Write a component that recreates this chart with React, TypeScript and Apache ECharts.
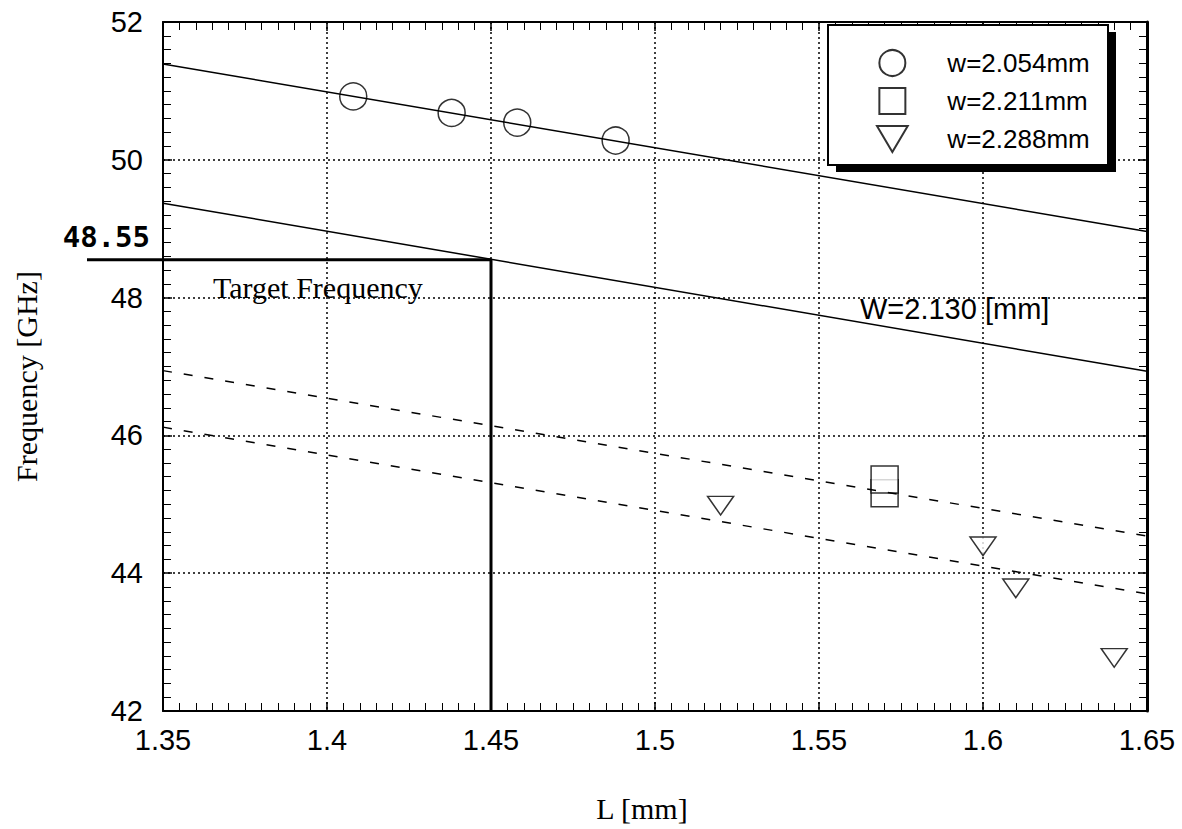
import React, { useEffect, useRef } from "react";
import * as echarts from "echarts";

// ---- data ----
const xTickLabels = ["1.35", "1.4", "1.45", "1.5", "1.55", "1.6", "1.65"];
const xMin = 1.35;
const xMax = 1.65;
const xStep = 0.05;
const yMin = 42;
const yMax = 52;
const yStep = 2;

const circleL = [1.408, 1.438, 1.458, 1.488];
const circleF = [50.92, 50.68, 50.54, 50.28];
const squareL = [1.57, 1.57];
const squareF = [45.16, 45.36];
const triL = [1.52, 1.6, 1.61, 1.64];
const triF = [44.98, 44.39, 43.78, 42.77];

const fitL = [1.35, 1.65];
const solidA = [51.39, 48.96];
const solidB = [49.37, 46.93];
const dashA = [46.94, 44.54];
const dashB = [46.12, 43.7];

const targetL = 1.45;
const targetF = 48.55;

const seriesNames = ["w=2.054mm", "w=2.211mm", "w=2.288mm"];

const pair = (xs: number[], ys: number[]) => xs.map((x, i) => [x, ys[i]]);

const sans = "Liberation Sans";
const serif = "Liberation Serif";

export default function App() {
  const ref = useRef<HTMLDivElement>(null);
  useEffect(() => {
    const chart = echarts.init(ref.current!, null, { renderer: "svg" });
    const fitLine = (d: number[], dashed: boolean) => ({
      type: "line",
      data: pair(fitL, d),
      symbol: "none",
      z: 4,
      silent: true,
      lineStyle: { color: "#000", width: 1.5, type: dashed ? [9, 12] : "solid" },
    });
    const scatterStyle = { color: "#fff", borderColor: "#000", borderWidth: 1.5 };
    const baseX = {
      type: "value",
      min: xMin,
      max: xMax,
      interval: xStep,
      axisLine: { onZero: false, lineStyle: { color: "#000", width: 2 } },
      axisTick: { inside: true, length: 9, lineStyle: { color: "#000", width: 1.5 } },
      minorTick: { show: true, splitNumber: 10, length: 8, lineStyle: { color: "#000", width: 1 } },
    };
    const baseY = {
      type: "value",
      min: yMin,
      max: yMax,
      interval: yStep,
      axisLine: { onZero: false, lineStyle: { color: "#000", width: 2 } },
      axisTick: { inside: true, length: 9, lineStyle: { color: "#000", width: 1.5 } },
      minorTick: { show: true, splitNumber: 10, length: 8, lineStyle: { color: "#000", width: 1 } },
    };
    const option: any = {
      animation: false,
      backgroundColor: "#fff",
      grid: { left: 163, top: 22, width: 984, height: 689 },
      legend: {
        data: seriesNames,
        orient: "vertical",
        left: 876,
        top: 49,
        padding: 0,
        itemWidth: 100,
        itemHeight: 26,
        itemGap: 10,
        z: 10,
        selectedMode: false,
        textStyle: { color: "#000", fontSize: 26, fontFamily: sans },
      },
      xAxis: [
        {
          ...baseX,
          position: "bottom",
          splitLine: { show: true, lineStyle: { color: "#000", width: 1.5, type: [2, 3] } },
          axisLabel: {
            color: "#000",
            fontSize: 29,
            fontFamily: sans,
            margin: 14,
            formatter: (v: number) => xTickLabels[Math.round((v - xMin) / xStep)] ?? "",
          },
          name: "L [mm]",
          nameLocation: "middle",
          nameGap: 82,
          nameTextStyle: { color: "#000", fontSize: 30, fontFamily: serif, padding: [0, 26, 0, 0] },
        },
        {
          ...baseX,
          position: "top",
          splitLine: { show: false },
          axisLabel: { show: false },
        },
      ],
      yAxis: [
        {
          ...baseY,
          position: "left",
          splitLine: { show: true, lineStyle: { color: "#000", width: 1.5, type: [2, 3] } },
          axisLabel: { color: "#000", fontSize: 29, fontFamily: sans, margin: 20 },
          name: "Frequency [GHz]",
          nameLocation: "middle",
          nameGap: 122,
          nameTextStyle: { color: "#000", fontSize: 30, fontFamily: serif, padding: [0, 20, 0, 0] },
        },
        {
          ...baseY,
          position: "right",
          axisLine: { onZero: false, lineStyle: { color: "#000", width: 3 } },
          splitLine: { show: false },
          axisLabel: { show: false },
        },
      ],
      series: [
        {
          name: seriesNames[0],
          type: "scatter",
          symbol: "circle",
          symbolSize: 27,
          symbolKeepAspect: true,
          z: 2,
          itemStyle: scatterStyle,
          data: pair(circleL, circleF),
        },
        {
          name: seriesNames[1],
          type: "scatter",
          symbol: "path://M0,0 L27,0 L27,27 L0,27 Z",
          symbolSize: 27,
          symbolKeepAspect: true,
          z: 2,
          itemStyle: scatterStyle,
          data: pair(squareL, squareF),
        },
        {
          name: seriesNames[2],
          type: "scatter",
          symbol: "path://M0,0 L26,0 L13,22 Z",
          symbolSize: [26, 22],
          symbolKeepAspect: true,
          z: 2,
          itemStyle: scatterStyle,
          data: pair(triL, triF),
        },
        fitLine(solidA, false),
        fitLine(solidB, false),
        fitLine(dashA, true),
        fitLine(dashB, true),
        {
          type: "line",
          data: [
            [xMin, targetF],
            [targetL, targetF],
            [targetL, yMin],
          ],
          symbol: "none",
          z: 5,
          silent: true,
          lineStyle: { color: "#000", width: 3 },
        },
      ],
    };
    chart.setOption(option);
    const p = chart.convertToPixel({ xAxisIndex: 0, yAxisIndex: 0 }, [xMin, targetF]) as number[];
    chart.setOption({
      graphic: [
        {
          type: "rect",
          z: 8,
          silent: true,
          shape: { x: 836, y: 32, width: 280, height: 140 },
          style: { fill: "#000" },
        },
        {
          type: "rect",
          z: 9,
          silent: true,
          shape: { x: 828, y: 25, width: 280, height: 140 },
          style: { fill: "#fff", stroke: "#000", lineWidth: 2 },
        },
        {
          type: "line",
          z: 6,
          silent: true,
          shape: { x1: 87, y1: p[1], x2: p[0], y2: p[1] },
          style: { stroke: "#000", lineWidth: 3 },
        },
        {
          type: "text",
          z: 6,
          x: 150,
          y: p[1] - 23,
          style: {
            text: String(targetF),
            fill: "#000",
            font: "bold 29px 'DejaVu Sans Mono'",
            align: "right",
            verticalAlign: "middle",
          },
        },
        {
          type: "text",
          z: 6,
          x: 213,
          y: 287,
          style: {
            text: "Target Frequency",
            fill: "#000",
            font: "30px 'Liberation Serif'",
            align: "left",
            verticalAlign: "middle",
          },
        },
        {
          type: "text",
          z: 6,
          x: 860,
          y: 309,
          style: {
            text: "W=2.130 [mm]",
            fill: "#000",
            font: "29px 'Liberation Sans'",
            align: "left",
            verticalAlign: "middle",
          },
        },
      ],
    });
    return () => chart.dispose();
  }, []);
  return (
    <div
      ref={ref}
      style={{ position: "absolute", left: 0, top: 0, width: 1182, height: 829 }}
    />
  );
}
